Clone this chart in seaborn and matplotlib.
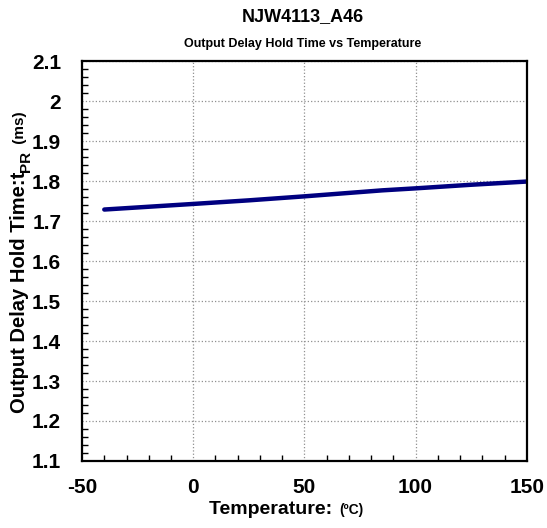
import matplotlib
matplotlib.use("Agg")
import matplotlib.pyplot as plt
import seaborn as sns
import pandas as pd
from matplotlib.ticker import MultipleLocator

temps = [-40, 0, 25, 50, 85, 100, 125, 150]
hold_time = [1.729, 1.743, 1.752, 1.762, 1.777, 1.782, 1.791, 1.799]
x_ticks = [-50, 0, 50, 100, 150]
y_ticks = [1.1, 1.2, 1.3, 1.4, 1.5, 1.6, 1.7, 1.8, 1.9, 2.0, 2.1]
y_labels = ["1.1", "1.2", "1.3", "1.4", "1.5", "1.6", "1.7", "1.8", "1.9", "2", "2.1"]

sns.set_style("white")
plt.rcParams["font.family"] = ["Liberation Sans", "DejaVu Sans"]
plt.rcParams["axes.unicode_minus"] = False
plt.rcParams["text.color"] = "black"
plt.rcParams["xtick.color"] = "black"
plt.rcParams["ytick.color"] = "black"

df = pd.DataFrame({"Temp": temps, "tPR": hold_time})

fig = plt.figure(figsize=(5.47, 5.28), dpi=100)
ax = fig.add_axes([0.150, 0.127, 0.813, 0.757])

sns.lineplot(data=df, x="Temp", y="tPR", ax=ax, color="#000080", linewidth=3.2)

ax.set_xlim(-50, 150)
ax.set_ylim(1.1, 2.1)
ax.set_xticks(x_ticks)
ax.set_yticks(y_ticks)
ax.set_yticklabels(y_labels)
ax.xaxis.set_minor_locator(MultipleLocator(10))
ax.yaxis.set_minor_locator(MultipleLocator(0.02))
ax.tick_params(which="both", bottom=True, left=True, top=False, right=False)
ax.tick_params(which="major", direction="in", length=0, labelsize=15, pad=12,
               labelcolor="black")
ax.tick_params(axis="y", which="major", pad=15)
ax.tick_params(which="minor", direction="in", length=4, width=1, color="black")
for lab in ax.get_xticklabels() + ax.get_yticklabels():
    lab.set_fontweight("bold")
ax.grid(True, which="major", color="#909090", linestyle=":", linewidth=0.9)
for s in ax.spines.values():
    s.set_color("black")
    s.set_linewidth(1.6)
ax.set_xlabel("")
ax.set_ylabel("")

fig.text(0.554, 0.968, "NJW4113_A46", ha="center", va="center", fontsize=13,
         fontweight="bold", color="black")
fig.text(0.554, 0.917, "Output Delay Hold Time vs Temperature", ha="center", va="center",
         fontsize=9, fontweight="bold", color="black")

# x label in pieces
xl = fig.text(0.382, 0.026, "Temperature: ", ha="left", va="baseline", fontsize=14,
              fontweight="bold", color="black")
fig.canvas.draw()
ax.annotate("(ºC)", xy=(1, 0), xycoords=xl, xytext=(1, 1), textcoords="offset points",
            ha="left", va="bottom", fontsize=10, fontweight="bold", color="black",
            annotation_clip=False)

# y label in pieces
yl = fig.text(0.035, 0.218, "Output Delay Hold Time:t", rotation=90, ha="center",
              va="bottom", fontsize=14.5, fontweight="bold", color="black")
fig.canvas.draw()
sub = ax.annotate("PR", xy=(1, 1), xycoords=yl, xytext=(3, 0), textcoords="offset points",
                  rotation=90, ha="right", va="bottom", fontsize=11, fontweight="bold",
                  color="black", annotation_clip=False)
fig.canvas.draw()
ax.annotate(" (ms)", xy=(1, 1), xycoords=(yl, sub), xytext=(-1, 2), textcoords="offset points",
            rotation=90, ha="right", va="bottom", fontsize=11, fontweight="bold",
            color="black", annotation_clip=False)

fig.savefig("out.png", dpi=100)
